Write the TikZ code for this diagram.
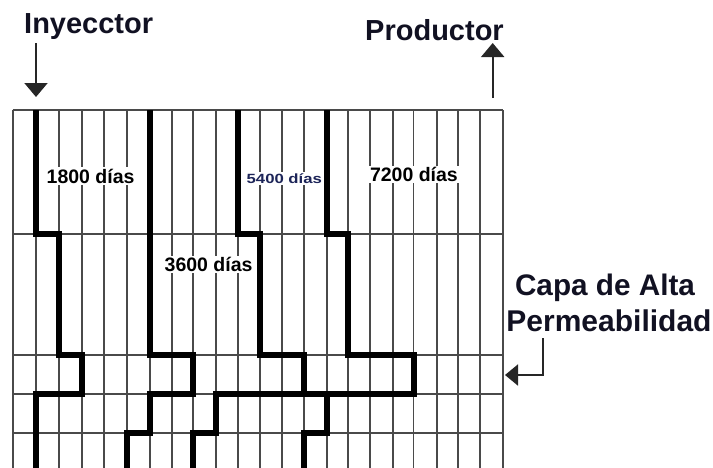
\documentclass[tikz,border=0pt]{standalone}
\usepackage{fontspec}
\setmainfont{Liberation Sans}
\usetikzlibrary{arrows.meta}
\definecolor{gridc}{HTML}{4A4A4A}
\definecolor{navy}{HTML}{1C2458}
\definecolor{ink}{HTML}{111122}
\begin{document}
\begin{tikzpicture}[x=1pt,y=-1pt,
  gridline/.style={draw=gridc,line width=1.8},
  flow/.style={draw=black,line width=6,line join=miter},
  title/.style={inner sep=0,anchor=base west,text=ink,font=\bfseries\fontsize{29}{30}\selectfont},
  daylabel/.style={fill=white,inner sep=1.5,anchor=base west,font=\bfseries\fontsize{19.5}{20}\selectfont},
  pointer/.style={draw=black!85,line width=2,-{Triangle[width=23,length=14]}}
]
\useasboundingbox (0,0) rectangle (713,467);
% grid
\foreach \x in {12.7,36,59.3,81.7,104.3,127,150.3,171.7,193.3,216,238.3,260,281.7,304,327,348,370,392.7,413.5,436.7,458.3,480,503.3}
  \draw[gridline] (\x,110) -- (\x,470);
\foreach \y in {110,234,355,394,433}
  \draw[gridline] (12.7,\y) -- (503.3,\y);
% day labels
\node[daylabel] (d1800) at (45,183) {1800 días};
\node[daylabel] (d3600) at (163,271.7) {3600 días};
\node[daylabel,text=navy,font=\bfseries\fontsize{16.7}{17}\selectfont] (d5400) at (245,183) {\scalebox{1}[0.8]{5400 días}};
\node[daylabel] (d7200) at (368.3,181.7) {7200 días};
% flood fronts
\draw[flow] (36,110) -- (36,234) -- (59.3,234) -- (59.3,355) -- (81.7,355) -- (81.7,394) -- (36,394) -- (36,470);
\draw[flow] (150.3,110) -- (150.3,355) -- (193.3,355) -- (193.3,394) -- (150.3,394) -- (150.3,433) -- (127,433) -- (127,470);
\draw[flow] (238.3,110) -- (238.3,234) -- (260,234) -- (260,355) -- (304,355) -- (304,394) -- (216,394) -- (216,433) -- (193.3,433) -- (193.3,470);
\draw[flow] (327,110) -- (327,234) -- (348,234) -- (348,355) -- (413.5,355) -- (413.5,394) -- (304,394);
\draw[flow] (327,394) -- (327,433) -- (304,433) -- (304,470);
% titles
\node[title] (iny) at (24,33) {Inyecctor};
\node[title] (prod) at (365,40) {Productor};
\node[inner sep=0,anchor=base,text=ink,font=\bfseries\fontsize{29.7}{30}\selectfont] (capa) at (605,295) {Capa de Alta};
\node[inner sep=0,anchor=base,text=ink,font=\bfseries\fontsize{30}{30}\selectfont] (perm) at (609,331.7) {Permeabilidad};
% arrows
\coordinate (inyA) at (36,43);
\coordinate (inyB) at (36,97);
\coordinate (prodA) at (492.7,98);
\coordinate (prodB) at (492.7,43);
\coordinate (capaA) at (543.3,338);
\coordinate (capaB) at (505,375);
\draw[pointer] (inyA) -- (inyB);
\draw[pointer] (prodA) -- (prodB);
\draw[draw=black!85,line width=2,-{Triangle[width=21,length=13]}] (capaA) |- (capaB);
\end{tikzpicture}
\end{document}
